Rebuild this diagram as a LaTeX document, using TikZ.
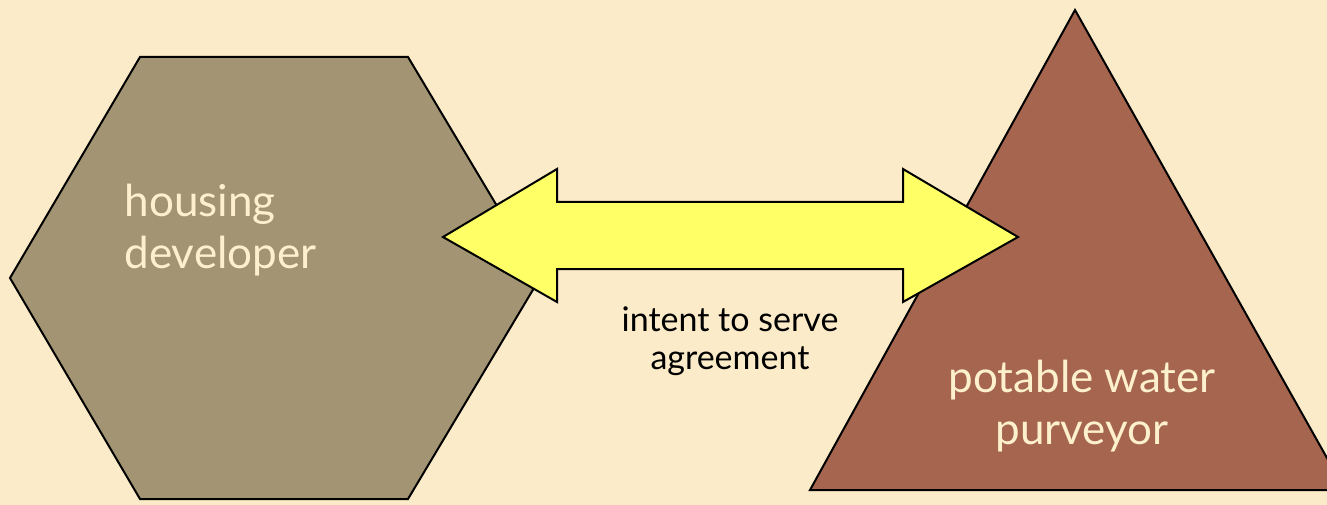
\documentclass[tikz,border=0pt]{standalone}
\usepackage{fontspec}
\setmainfont{Lato}
\definecolor{paper}{HTML}{FBEBC8}
\definecolor{hexfill}{HTML}{A39573}
\definecolor{trifill}{HTML}{A5654F}
\definecolor{pale}{HTML}{FDF0CC}
\definecolor{arrowfill}{HTML}{FFFF66}

\begin{document}
\begin{tikzpicture}
  [x=1pt,y=-1pt,
   shape line/.style={draw=black,line width=2pt,line join=miter},
   big label/.style={text=pale,font=\fontsize{44}{52}\selectfont},
   small label/.style={text=black,font=\fontsize{34}{38}\selectfont,align=center}]
  \fill[paper] (0,0) rectangle (1327,505);
  \useasboundingbox (0,0) rectangle (1327,505);
  \begin{scope}
    \clip (0,0) rectangle (1327,505);
    % hexagon and triangle
    \draw[shape line,fill=hexfill] (10,278) -- (140,57) -- (408,57) -- (540,278)
      -- (408,499) -- (140,499) -- cycle;
    \draw[shape line,fill=trifill] (1075,10) -- (810,490) -- (1345,490) -- cycle;
    % double arrow
    \draw[shape line,fill=arrowfill] (443,237) -- (557,169) -- (557,202) -- (903,202)
      -- (903,169) -- (1018,237) -- (903,302) -- (903,269) -- (557,269)
      -- (557,302) -- cycle;
  \end{scope}
  \node[big label,anchor=west,align=left] (developer) at (121,230) {housing\\developer};
  \node[big label,align=center] (purveyor) at (1082,406) {potable water\\purveyor};
  \node[small label] (agreement) at (730,341) {intent to serve\\agreement};
\end{tikzpicture}
\end{document}
